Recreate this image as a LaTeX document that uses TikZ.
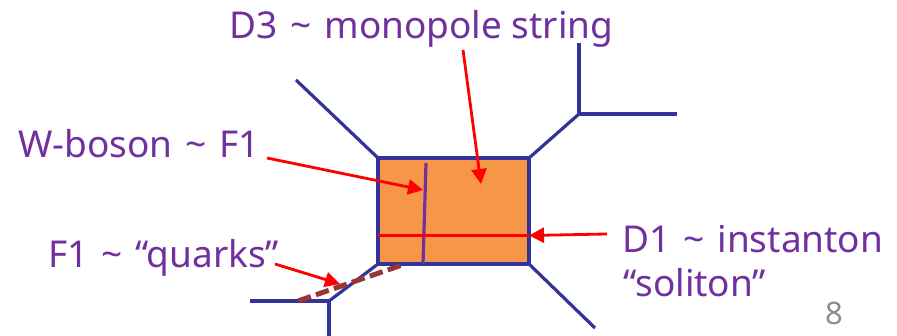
\documentclass[tikz,border=0pt]{standalone}
\usepackage{fontspec}
\setmainfont{Noto Sans}
\usetikzlibrary{arrows.meta}
\definecolor{txt}{RGB}{112,48,160}
\definecolor{web}{RGB}{51,51,153}
\definecolor{fillo}{RGB}{247,150,70}
\definecolor{brn}{RGB}{149,55,53}
\definecolor{redc}{RGB}{255,0,0}
\newcommand{\tld}{\hspace{13pt}\char"7E\relax\hspace{13pt}}
\tikzset{
  lab/.style={text=txt,font=\fontsize{37}{40}\selectfont,inner sep=0pt,anchor=base west},
  webline/.style={draw=web,line width=3.2pt},
  callout/.style={draw=redc,line width=2.8pt,-{Triangle[length=15pt,width=15pt]}},
}
\begin{document}
\begin{tikzpicture}[x=1pt,y=-1pt]
\useasboundingbox (0,0) rectangle (897,336);
\coordinate (tl) at (378,158);
\coordinate (tr) at (529,158);
\coordinate (br) at (529,264);
\coordinate (bl) at (378,264);
\coordinate (a) at (296,80);
\coordinate (b) at (579,114);
\coordinate (b1) at (579,43);
\coordinate (b2) at (677,114);
\coordinate (c) at (595,328);
\coordinate (d) at (329,301);
\coordinate (d1) at (250,301);
\coordinate (d2) at (329,336);
\coordinate (wt) at (426,163);
\coordinate (wb) at (423,264);
\coordinate (il) at (378,235.5);
\coordinate (ir) at (529,235.5);
\coordinate (q1) at (298,301);
\coordinate (q2) at (402,265);
\fill[fillo] (tl) rectangle (br);
\draw[webline,line join=miter] (tl) -- (tr) -- (br) -- (bl) -- cycle;
\draw[webline] (tl) -- (a);
\draw[webline] (tr) -- (b);
\draw[webline] (b1) -- (b) -- (b2);
\draw[webline] (br) -- (c);
\draw[webline] (bl) -- (d);
\draw[webline] (d1) -- (d) -- (d2);
\draw[draw=txt,line width=3.2pt] (wt) -- (wb);
\draw[draw=redc,line width=2.8pt] (il) -- (ir);
\draw[draw=brn,line width=5pt,dash pattern=on 13.5pt off 5.5pt] (q1) -- (q2);
\node[lab] (n1) at (229,39) {D3\tld monopole string};
\node[lab] (n2) at (18,158) {W-boson\tld F1};
\node[lab] (n3) at (48,268) {F1\tld “quarks”};
\node[lab] (n4) at (622,253) {D1\tld instanton};
\node[lab] (n5) at (623,297) {“soliton”};
\node[text=black!45,font=\fontsize{31}{36}\selectfont,inner sep=0pt,anchor=base west] (n6) at (825,325) {8};
\coordinate (s1) at (463,50); \coordinate (e1) at (481,184);
\coordinate (s2) at (267,158); \coordinate (e2) at (423,190);
\coordinate (s3) at (275,264); \coordinate (e3) at (340,284);
\coordinate (s4) at (607,234); \coordinate (e4) at (529,235.5);
\draw[callout] (s1) -- (e1);
\draw[callout] (s2) -- (e2);
\draw[callout] (s3) -- (e3);
\draw[callout] (s4) -- (e4);
\end{tikzpicture}
\end{document}
